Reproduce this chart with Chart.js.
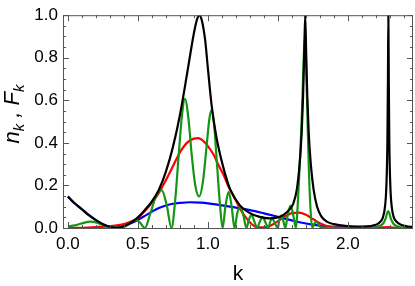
<!DOCTYPE HTML>
<html>
<head>
  <title>n_k, F_k</title>
  <script src="https://cdn.jsdelivr.net/npm/chart.js"></script>
  <style>
    body { margin: 0; background: #fff; }
  </style>
</head>
<body>
  <canvas id="kChart" width="415" height="286"></canvas>
  <script type="text/javascript">
    // n_k (black)
    var kN = [0.00, 0.05, 0.10, 0.15, 0.20, 0.25, 0.30, 0.35, 0.40, 0.45, 0.50, 0.55, 0.60, 0.65, 0.70, 0.75, 0.80, 0.85, 0.88, 0.90, 0.92, 0.936, 0.955, 0.98, 1.00, 1.026, 1.06, 1.11, 1.16, 1.23, 1.30, 1.37, 1.44, 1.50, 1.54, 1.58, 1.61, 1.635, 1.655, 1.67, 1.68, 1.688, 1.695, 1.702, 1.71, 1.72, 1.735, 1.755, 1.78, 1.81, 1.85, 1.90, 2.00, 2.10, 2.16, 2.20, 2.23, 2.25, 2.265, 2.275, 2.282, 2.286, 2.289, 2.292, 2.296, 2.303, 2.313, 2.328, 2.35, 2.38, 2.42, 2.465];
    var nK = [0.148, 0.115, 0.088, 0.060, 0.037, 0.018, 0.006, 0.001, 0.008, 0.025, 0.050, 0.085, 0.125, 0.18, 0.265, 0.38, 0.53, 0.72, 0.84, 0.915, 0.975, 1.0, 0.98, 0.885, 0.75, 0.58, 0.43, 0.285, 0.18, 0.105, 0.07, 0.052, 0.045, 0.05, 0.062, 0.085, 0.115, 0.18, 0.30, 0.45, 0.62, 0.82, 1.0, 0.82, 0.62, 0.45, 0.30, 0.18, 0.10, 0.055, 0.03, 0.018, 0.009, 0.007, 0.009, 0.015, 0.028, 0.05, 0.1, 0.2, 0.4, 0.7, 1.0, 0.7, 0.4, 0.2, 0.1, 0.05, 0.028, 0.015, 0.008, 0.005];

    // F_k (green)
    var kF = [0.00, 0.05, 0.10, 0.16, 0.22, 0.27, 0.32, 0.37, 0.42, 0.46, 0.49, 0.515, 0.55, 0.585, 0.63, 0.67, 0.705, 0.74, 0.765, 0.79, 0.815, 0.836, 0.86, 0.885, 0.91, 0.938, 0.965, 0.99, 1.01, 1.026, 1.045, 1.065, 1.085, 1.105, 1.125, 1.148, 1.17, 1.19, 1.21, 1.23, 1.253, 1.275, 1.293, 1.312, 1.332, 1.352, 1.372, 1.392, 1.412, 1.432, 1.445, 1.46, 1.48, 1.50, 1.51, 1.525, 1.54, 1.553, 1.57, 1.59, 1.61, 1.628, 1.645, 1.66, 1.672, 1.682, 1.692, 1.70, 1.71, 1.72, 1.732, 1.745, 1.76, 1.775, 1.795, 1.82, 1.90, 2.00, 2.15, 2.22, 2.25, 2.27, 2.28, 2.288, 2.296, 2.306, 2.325, 2.355, 2.40, 2.465];
    var fK = [0.008, 0.012, 0.022, 0.03, 0.022, 0.01, 0.003, 0.002, 0.012, 0.03, 0.036, 0.025, 0.0, 0.06, 0.15, 0.178, 0.11, 0.0, 0.12, 0.33, 0.53, 0.607, 0.52, 0.34, 0.2, 0.148, 0.22, 0.38, 0.51, 0.555, 0.48, 0.3, 0.12, 0.0, 0.1, 0.17, 0.1, 0.0, 0.07, 0.102, 0.06, 0.0, 0.04, 0.062, 0.03, 0.0, 0.032, 0.05, 0.025, 0.0, 0.03, 0.044, 0.02, 0.0, 0.04, 0.058, 0.03, 0.0, 0.06, 0.105, 0.06, 0.0, 0.15, 0.35, 0.55, 0.75, 0.9, 0.8, 0.55, 0.3, 0.1, 0.0, 0.02, 0.03, 0.01, 0.002, 0.001, 0.0, 0.0, 0.008, 0.02, 0.045, 0.07, 0.08, 0.07, 0.045, 0.02, 0.008, 0.001, 0.0];

    // red
    var kR = [0.00, 0.10, 0.20, 0.30, 0.40, 0.45, 0.50, 0.55, 0.60, 0.65, 0.70, 0.75, 0.80, 0.85, 0.90, 0.93, 0.97, 1.00, 1.04, 1.08, 1.11, 1.15, 1.18, 1.23, 1.27, 1.31, 1.35, 1.40, 1.45, 1.50, 1.55, 1.60, 1.65, 1.70, 1.75, 1.80, 1.85, 1.90, 2.00, 2.20, 2.29, 2.35, 2.465];
    var rK = [0.0, 0.001, 0.004, 0.008, 0.018, 0.03, 0.048, 0.08, 0.118, 0.165, 0.225, 0.29, 0.355, 0.40, 0.42, 0.422, 0.407, 0.385, 0.345, 0.29, 0.252, 0.19, 0.155, 0.09, 0.05, 0.02, 0.004, 0.003, 0.012, 0.032, 0.055, 0.07, 0.072, 0.062, 0.042, 0.022, 0.009, 0.003, 0.001, 0.001, 0.004, 0.001, 0.0];

    // blue
    var kB = [0.00, 0.05, 0.10, 0.15, 0.20, 0.25, 0.30, 0.35, 0.40, 0.45, 0.50, 0.55, 0.60, 0.65, 0.70, 0.75, 0.80, 0.87, 0.95, 1.00, 1.10, 1.20, 1.30, 1.40, 1.50, 1.60, 1.70, 1.80, 1.90, 2.00, 2.10, 2.20, 2.465];
    var bK = [0.148, 0.115, 0.088, 0.060, 0.037, 0.018, 0.006, 0.002, 0.009, 0.022, 0.038, 0.057, 0.077, 0.094, 0.106, 0.114, 0.118, 0.121, 0.119, 0.116, 0.106, 0.096, 0.084, 0.069, 0.053, 0.036, 0.021, 0.011, 0.005, 0.002, 0.001, 0.0, 0.0];

    var xTicks = [0.0, 0.5, 1.0, 1.5, 2.0];
    var yTicks = [0.0, 0.2, 0.4, 0.6, 0.8, 1.0];

    function pts(xs, ys) {
      var out = [];
      for (let i = 0; i < xs.length; i++) out.push({ x: xs[i], y: ys[i] });
      return out;
    }

    var fontName = "'Liberation Sans', Arial, sans-serif";

    // frame, inward ticks and axis titles (Mathematica style)
    var framePlugin = {
      id: 'frame',
      afterDraw: function (chart) {
        var ctx = chart.ctx, a = chart.chartArea;
        var xs = chart.scales.x, ys = chart.scales.y;
        ctx.save();
        ctx.strokeStyle = '#555';
        ctx.lineWidth = 1;
        ctx.strokeRect(a.left + 0.5, a.top + 0.5, a.right - a.left - 1, a.bottom - a.top);
        ctx.beginPath();
        for (let i = 0; i <= 24; i++) {
          var v = i / 10;
          var px = Math.round(xs.getPixelForValue(v)) + 0.5;
          var len = (i % 5 == 0) ? 6 : 3;
          ctx.moveTo(px, a.bottom); ctx.lineTo(px, a.bottom - len);
          ctx.moveTo(px, a.top); ctx.lineTo(px, a.top + len);
        }
        for (let i = 0; i <= 20; i++) {
          var v = i / 20;
          var py = Math.round(ys.getPixelForValue(v)) + 0.5;
          var len = (i % 4 == 0) ? 6 : 3;
          ctx.moveTo(a.left, py); ctx.lineTo(a.left + len, py);
          ctx.moveTo(a.right, py); ctx.lineTo(a.right - len, py);
        }
        ctx.stroke();

        // x title
        ctx.fillStyle = '#000';
        ctx.font = "21px " + fontName;
        ctx.textAlign = 'center';
        ctx.textBaseline = 'alphabetic';
        ctx.fillText('k', (a.left + a.right) / 2, 280);

        // y title: n_k , F_k
        var big = "italic 22px " + fontName, small = "italic 15px " + fontName;
        var parts = [['n', big, 0], ['k', small, 5], [' , ', big, 0], ['F', big, 0], ['k', small, 5]];
        var total = 0;
        parts.forEach(function (p) { ctx.font = p[1]; total += ctx.measureText(p[0]).width; });
        ctx.translate(19, 114);
        ctx.rotate(-Math.PI / 2);
        ctx.textAlign = 'left';
        var x0 = -total / 2;
        parts.forEach(function (p) {
          ctx.font = p[1];
          ctx.fillText(p[0], x0, p[2]);
          x0 += ctx.measureText(p[0]).width;
        });
        ctx.restore();
      }
    };

    var lineOpts = { pointRadius: 0, borderWidth: 2.2, cubicInterpolationMode: 'monotone', fill: false };

    new Chart(document.getElementById('kChart'), {
      type: 'line',
      data: {
        datasets: [
          Object.assign({ label: 'n_k', data: pts(kN, nK), borderColor: '#000000' }, lineOpts),
          Object.assign({ label: 'F_k', data: pts(kF, fK), borderColor: 'rgb(20,150,20)' }, lineOpts),
          Object.assign({ label: 'red', data: pts(kR, rK), borderColor: '#ff0000' }, lineOpts),
          Object.assign({ label: 'blue', data: pts(kB, bK), borderColor: '#0000ff' }, lineOpts),
        ],
      },
      options: {
        responsive: false,
        animation: false,
        layout: { padding: { top: 12, right: 2, left: 0, bottom: 0 } },
        plugins: { legend: { display: false }, tooltip: { enabled: false } },
        scales: {
          x: {
            type: 'linear',
            min: -0.035,
            max: 2.465,
            grid: { display: false, drawTicks: false },
            border: { display: false },
            afterFit: function (s) { s.height = 58; },
            afterBuildTicks: function (s) { s.ticks = xTicks.map(function (v) { return { value: v }; }); },
            ticks: {
              padding: 6,
              color: '#000',
              font: { family: fontName, size: 17 },
              callback: function (v) { return v.toFixed(1); },
            },
          },
          y: {
            type: 'linear',
            min: 0,
            max: 1,
            grid: { display: false, drawTicks: false },
            border: { display: false },
            afterFit: function (s) { s.width = 63; },
            afterBuildTicks: function (s) { s.ticks = yTicks.map(function (v) { return { value: v }; }); },
            ticks: {
              padding: 5,
              color: '#000',
              font: { family: fontName, size: 17 },
              callback: function (v) { return v.toFixed(1); },
            },
          },
        },
      },
      plugins: [framePlugin],
    });
  </script>
</body>
</html>
